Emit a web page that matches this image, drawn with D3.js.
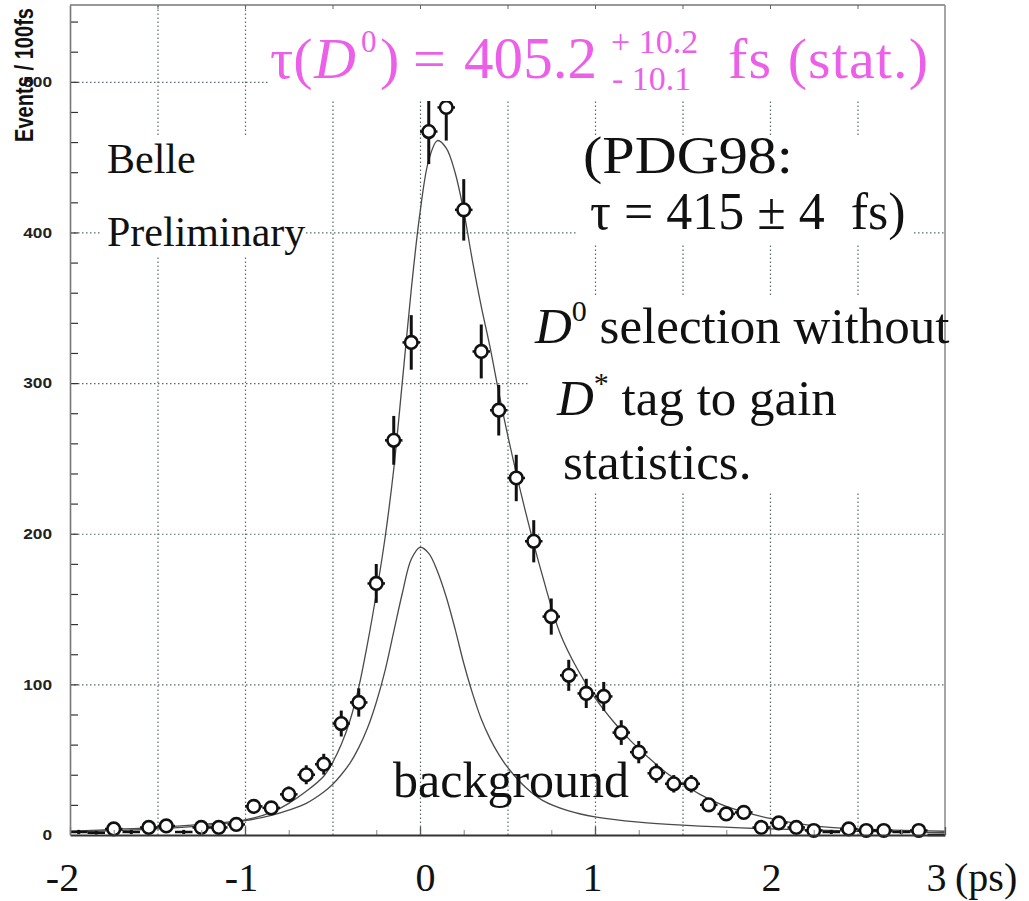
<!DOCTYPE html>
<html>
<head>
<meta charset="utf-8">
<script src="https://cdn.jsdelivr.net/npm/d3@7"></script>
<style>
  html, body { margin: 0; padding: 0; background: #fff; }
  svg { display: block; }
  .serif { font-family: "Liberation Serif", "Times New Roman", serif; white-space: pre; }
  .grid line { stroke: #5a6a6a; stroke-width: 1.2; stroke-dasharray: 1.5, 2.5; }
  .grid .domain { display: none; }
</style>
</head>
<body>
<div id="vis"></div>
<script>
const FRAME_WIDTH = 1029;
const FRAME_HEIGHT = 901;
const MARGINS = {left: 70, right: 84, top: 5, bottom: 66};

// tick labels
const xTickLabels = [-2, -1, 0, 1, 2, 3];
const yTickLabels = [0, 100, 200, 300, 400, 500];
const xGrid = [-1.5, -1, -0.5, 0, 0.5, 1, 1.5, 2, 2.5];
const yGrid = [100, 200, 300, 400, 500];

// data: bin centres (ps), events per bin, error
const binCenters = [-1.95, -1.85, -1.75, -1.65, -1.55, -1.45, -1.35, -1.25, -1.15, -1.05,
                    -0.95, -0.85, -0.75, -0.65, -0.55, -0.45, -0.35, -0.25, -0.15, -0.05,
                    0.05, 0.15, 0.25, 0.35, 0.45, 0.55, 0.65, 0.75, 0.85, 0.95,
                    1.05, 1.15, 1.25, 1.35, 1.45, 1.55, 1.65, 1.75, 1.85, 1.95,
                    2.05, 2.15, 2.25, 2.35, 2.45, 2.55, 2.65, 2.75, 2.85, 2.95];
const counts = [2, 1.5, 4, 2, 5, 6, 2, 5, 5, 7,
                19, 18, 27, 40, 47, 74, 88, 167, 262, 327,
                467, 483, 415, 321, 282, 237, 195, 145, 106, 94,
                92, 68, 55, 41, 34, 34, 20, 14, 15, 5,
                8, 5, 3, 2, 4, 3, 3, 2, 3, 0];
const errors = [1.4, 1.2, 2, 1.4, 2.2, 2.4, 1.4, 2.2, 2.2, 2.6,
                4.4, 4.2, 5.2, 6.3, 6.9, 8.6, 9.4, 12.9, 16.2, 18.1,
                21.6, 22, 20.4, 17.9, 16.8, 15.4, 14, 12, 10.3, 9.7,
                9.6, 8.2, 7.4, 6.4, 5.8, 5.8, 4.5, 3.7, 3.9, 2.2,
                2.8, 2.2, 1.7, 1.4, 2, 1.7, 1.7, 1.4, 1.7, 0];

// fit curve (total) and background
const fitT = [-2, -1.5, -1.25, -1.0, -0.85, -0.75, -0.65, -0.55, -0.5, -0.45, -0.4, -0.35,
              -0.3, -0.25, -0.2, -0.15, -0.1, -0.05, 0, 0.05, 0.1, 0.15, 0.2, 0.25,
              0.3, 0.35, 0.4, 0.45, 0.5, 0.6, 0.7, 0.8, 0.9, 1.0, 1.1, 1.2,
              1.3, 1.4, 1.5, 1.6, 1.75, 2.0, 2.25, 2.5, 3.0];
const fitN = [2.5, 5, 7, 10, 15, 21, 29, 39, 48, 60, 76, 98,
              127, 160, 197, 243, 302, 362, 413, 448, 461, 456, 440, 414,
              381, 351, 324, 294, 266, 216, 172, 134, 110, 91, 76, 63,
              52, 42, 34, 27, 19, 11, 6, 4, 2.5];
const bgT = [-2, -1.5, -1.25, -1.0, -0.85, -0.75, -0.65, -0.55, -0.5, -0.45, -0.4, -0.35,
             -0.3, -0.25, -0.2, -0.15, -0.1, -0.05, 0, 0.05, 0.1, 0.15, 0.2, 0.25,
             0.3, 0.35, 0.4, 0.45, 0.5, 0.6, 0.7, 0.85, 1.0, 1.25, 1.5, 2.0, 2.5, 3.0];
const bgN = [2, 4, 6, 9.5, 13, 16.5, 21, 28.5, 33.5, 40, 47.7, 58,
             71, 88, 109, 135, 161, 183, 191, 187, 175, 158, 137, 114,
             94, 77, 64, 53.5, 45, 32, 23, 16, 12, 8.5, 6.5, 4, 2.5, 1.5];

const VIS_HEIGHT = FRAME_HEIGHT - MARGINS.top - MARGINS.bottom;
const VIS_WIDTH = FRAME_WIDTH - MARGINS.left - MARGINS.right;

const FRAME = d3.select("#vis")
                .append("svg")
                  .attr("width", FRAME_WIDTH)
                  .attr("height", FRAME_HEIGHT);

const X_SCALE = d3.scaleLinear()
                  .domain([-2, 3])
                  .range([MARGINS.left, MARGINS.left + VIS_WIDTH]);
const Y_SCALE = d3.scaleLinear()
                  .domain([0, 551])
                  .range([MARGINS.top + VIS_HEIGHT, MARGINS.top]);

const BOTTOM = MARGINS.top + VIS_HEIGHT;
const RIGHT = MARGINS.left + VIS_WIDTH;

// grid
FRAME.append("g")
  .attr("class", "grid")
  .attr("transform", `translate(0,${BOTTOM})`)
  .call(d3.axisBottom(X_SCALE).tickValues(xGrid).tickSize(-VIS_HEIGHT).tickFormat(""));
FRAME.append("g")
  .attr("class", "grid")
  .attr("transform", `translate(${MARGINS.left},0)`)
  .call(d3.axisLeft(Y_SCALE).tickValues(yGrid).tickSize(-VIS_WIDTH).tickFormat(""));

// curves
const line = d3.line()
  .x(d => X_SCALE(d[0]))
  .y(d => Y_SCALE(d[1]))
  .curve(d3.curveCatmullRom.alpha(0.5));

FRAME.append("path")
  .datum(bgT.map((t, i) => [t, bgN[i]]))
  .attr("d", line)
  .attr("fill", "none")
  .attr("stroke", "#4a4a4a")
  .attr("stroke-width", 1.3);
FRAME.append("path")
  .datum(fitT.map((t, i) => [t, fitN[i]]))
  .attr("d", line)
  .attr("fill", "none")
  .attr("stroke", "#4a4a4a")
  .attr("stroke-width", 1.3);

// data points
const points = binCenters.map((c, i) => ({t: c, n: counts[i], e: errors[i]}));
const pts = FRAME.append("g").selectAll("g")
  .data(points)
  .enter()
  .append("g");

pts.append("line")
  .attr("x1", d => X_SCALE(d.t))
  .attr("x2", d => X_SCALE(d.t))
  .attr("y1", d => Y_SCALE(d.n + d.e))
  .attr("y2", d => Y_SCALE(Math.max(0, d.n - d.e)))
  .attr("stroke", "#111")
  .attr("stroke-width", 3);
pts.append("line")
  .attr("x1", d => X_SCALE(d.t - 0.05))
  .attr("x2", d => X_SCALE(d.t + 0.05))
  .attr("y1", d => Y_SCALE(d.n))
  .attr("y2", d => Y_SCALE(d.n))
  .attr("stroke", "#111")
  .attr("stroke-width", 2.5);
pts.filter(d => d.n > 2)
  .append("circle")
  .attr("cx", d => X_SCALE(d.t))
  .attr("cy", d => Y_SCALE(d.n))
  .attr("r", 6.3)
  .attr("fill", "#fff")
  .attr("stroke", "#111")
  .attr("stroke-width", 2.6);

// white boxes behind the text blocks
const boxes = [
  {x: 268, y: 6, w: 676, h: 95},
  {x: 100, y: 135, w: 205, h: 120},
  {x: 578, y: 135, w: 335, h: 110},
  {x: 530, y: 295, w: 414, h: 197}
];
FRAME.append("g").selectAll("rect")
  .data(boxes)
  .enter()
  .append("rect")
    .attr("x", d => d.x).attr("y", d => d.y)
    .attr("width", d => d.w).attr("height", d => d.h)
    .attr("fill", "#fff");

// frame
FRAME.append("line")
  .attr("x1", MARGINS.left).attr("x2", RIGHT)
  .attr("y1", MARGINS.top).attr("y2", MARGINS.top)
  .attr("stroke", "#777").attr("stroke-width", 1.5);
FRAME.append("line")
  .attr("x1", RIGHT).attr("x2", RIGHT)
  .attr("y1", MARGINS.top).attr("y2", BOTTOM)
  .attr("stroke", "#888").attr("stroke-width", 1.5);

// top ticks
FRAME.append("g")
  .attr("transform", `translate(0,${MARGINS.top})`)
  .call(d3.axisTop(X_SCALE).tickValues(xGrid).tickSizeInner(-4).tickSizeOuter(0).tickFormat(""))
  .call(g => g.select(".domain").remove())
  .call(g => g.selectAll("line").attr("stroke", "#666"));

// x axis minor ticks
FRAME.append("g")
  .attr("transform", `translate(0,${BOTTOM})`)
  .call(d3.axisBottom(X_SCALE).tickValues(d3.range(-1.75, 3, 0.5)).tickSizeInner(-5).tickSizeOuter(0).tickFormat(""))
  .call(g => g.select(".domain").remove())
  .call(g => g.selectAll("line").attr("stroke", "#999").attr("stroke-width", 1.2));

// x axis
const labelNudge = {"-2": -8, "-1": -4, "0": 5, "1": -3, "2": 1, "3": -9};
const xAxis = FRAME.append("g")
  .attr("transform", `translate(0,${BOTTOM})`)
  .call(d3.axisBottom(X_SCALE).tickValues(xTickLabels).tickSizeInner(-8).tickSizeOuter(0)
          .tickFormat(d => String(d)));
xAxis.select(".domain").attr("stroke", "#333").attr("stroke-width", 2);
xAxis.selectAll("line").attr("stroke", "#555").attr("stroke-width", 1.3);
xAxis.selectAll("text")
  .attr("class", "serif")
  .attr("font-size", 40)
  .attr("fill", "#111")
  .attr("y", 56)
  .attr("dy", null)
  .attr("dx", d => labelNudge[String(d)]);

FRAME.append("text")
  .attr("class", "serif")
  .attr("x", 955).attr("y", BOTTOM + 56)
  .attr("font-size", 40)
  .attr("fill", "#111")
  .text("(ps)");

// y axis minor ticks (inside)
FRAME.append("g")
  .attr("transform", `translate(${MARGINS.left},0)`)
  .call(d3.axisRight(Y_SCALE).tickValues(d3.range(20, 541, 20)).tickSizeInner(8).tickSizeOuter(0).tickFormat(""))
  .call(g => g.select(".domain").remove())
  .call(g => g.selectAll("line").attr("stroke", "#333").attr("stroke-width", 1.2));

// y axis
const yAxis = FRAME.append("g")
  .attr("transform", `translate(${MARGINS.left},0)`)
  .call(d3.axisLeft(Y_SCALE).tickValues(yTickLabels).tickSize(0).tickPadding(18));
yAxis.select(".domain").attr("stroke", "#777").attr("stroke-width", 1.6);
yAxis.selectAll("text")
  .attr("font-family", "'Liberation Sans', Arial, sans-serif")
  .attr("font-weight", "bold")
  .attr("font-size", 15)
  .attr("fill", "#222")
  .each(function () {
    const w = this.getComputedTextLength();
    d3.select(this).attr("textLength", w * 1.15).attr("lengthAdjust", "spacingAndGlyphs");
  });

FRAME.append("text")
  .attr("transform", "translate(33,75) scale(1.3,1) rotate(-90)")
  .attr("text-anchor", "middle")
  .attr("font-family", "'Liberation Sans', Arial, sans-serif")
  .attr("font-weight", "bold")
  .attr("font-size", 20)
  .attr("textLength", 134)
  .attr("lengthAdjust", "spacingAndGlyphs")
  .attr("fill", "#111")
  .text("Events / 100fs");

// title (magenta)
const MAGENTA = "#ec5fe8";
function magenta(x, y, size, str) {
  return FRAME.append("text").attr("class", "serif")
    .attr("x", x).attr("y", y).attr("font-size", size).attr("fill", MAGENTA)
    .text(str);
}
magenta(270, 78, 58, "τ(");
magenta(314, 78, 58, "D").attr("font-style", "italic");
magenta(361, 52, 31, "0");
magenta(380, 78, 58, ")");
magenta(413, 78, 58, "=");
magenta(464, 78, 59, "405.2").attr("textLength", 133);
magenta(611, 53, 34, "+ 10.2");
magenta(612, 90, 34, "- 10.1");
magenta(728, 78, 58, "fs (stat.)").attr("textLength", 200);

// annotations
function label(x, y, size, str) {
  return FRAME.append("text").attr("class", "serif")
    .attr("x", x).attr("y", y).attr("font-size", size).attr("fill", "#111")
    .text(str);
}
label(107, 173, 42, "Belle");
label(107, 246, 42, "Preliminary");
label(583, 173, 53, "(PDG98:").attr("textLength", 210).attr("lengthAdjust", "spacingAndGlyphs");
label(590, 229, 52, "τ = 415 ± 4  fs)");

const sel = label(535, 343, 51, null);
sel.append("tspan").attr("font-style", "italic").text("D");
sel.append("tspan").attr("font-size", 30).attr("dy", -22).text("0");
sel.append("tspan").attr("dy", 22).text(" selection without");

const tag = label(557, 415, 51, null);
tag.append("tspan").attr("font-style", "italic").text("D");
tag.append("tspan").attr("font-size", 30).attr("dy", -22).text("*");
tag.append("tspan").attr("dy", 22).text(" tag to gain");

label(563, 479, 51, "statistics.");
label(393, 797, 50, "background");
</script>
</body>
</html>
